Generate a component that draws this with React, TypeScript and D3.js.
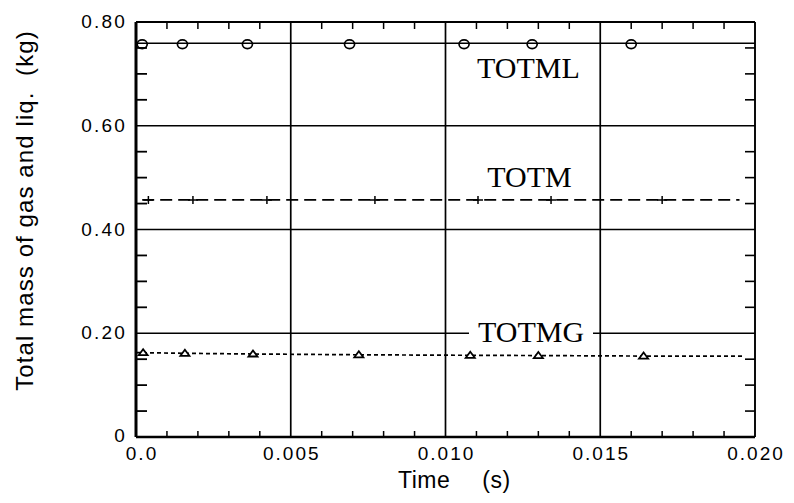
import React from "react";
import * as d3 from "d3";

// Time axis (s) and mass axis (kg)
const xDomain = [0, 0.02];
const yDomain = [0, 0.8];
const xTickLabels = ["0.0", "0.005", "0.010", "0.015", "0.020"];
const yTickLabels = ["0", "0.20", "0.40", "0.60", "0.80"];

// TOTML: total liquid mass
const totmlTime = [0.0002, 0.0015, 0.0036, 0.0069, 0.0106, 0.0128, 0.016];
const totmlMass = [0.759, 0.759, 0.759, 0.759, 0.759, 0.759, 0.759];

// TOTM: total mass
const totmTime = [0.0004, 0.00184, 0.00423, 0.00772, 0.01105, 0.01341, 0.017];
const totmMass = [0.457, 0.457, 0.457, 0.457, 0.457, 0.457, 0.457];

// TOTMG: total gas mass
const totmgTime = [0.00023, 0.00158, 0.00378, 0.0072, 0.0108, 0.013, 0.0164];
const totmgMass = [0.1625, 0.1613, 0.16, 0.1585, 0.1575, 0.157, 0.156];

const W = 794;
const H = 503;
const M = { left: 136, right: 755, top: 22, bottom: 437 };

const x = d3.scaleLinear().domain(xDomain).range([M.left, M.right]);
const y = d3.scaleLinear().domain(yDomain).range([M.bottom, M.top]);

type Series = {
  name: string;
  time: number[];
  mass: number[];
  span: [number, number];
  dash: string;
  marker: "circle" | "plus" | "triangle";
  label: [number, number];
  knockout?: boolean;
};

const series: Series[] = [
  {
    name: "TOTML",
    time: totmlTime,
    mass: totmlMass,
    span: [0, 0.02],
    dash: "none",
    marker: "circle",
    label: [0.01102, 0.692],
  },
  {
    name: "TOTM",
    time: totmTime,
    mass: totmMass,
    span: [0.0002, 0.0195],
    dash: "12 6",
    marker: "plus",
    label: [0.01135, 0.482],
  },
  {
    name: "TOTMG",
    time: totmgTime,
    mass: totmgMass,
    span: [0, 0.0196],
    dash: "4 3",
    marker: "triangle",
    label: [0.01105, 0.183],
    knockout: true,
  },
];

const line = d3
  .line<[number, number]>()
  .x((d) => x(d[0]))
  .y((d) => y(d[1]));

function seriesPoints(s: Series): [number, number][] {
  const pts: [number, number][] = s.time.map((t, i) => [t, s.mass[i]]);
  return [
    [s.span[0], s.mass[0]],
    ...pts,
    [s.span[1], s.mass[s.mass.length - 1]],
  ];
}

function Marker({ kind, cx, cy }: { kind: string; cx: number; cy: number }) {
  if (kind === "circle") {
    return (
      <ellipse cx={cx} cy={cy + 1} rx={5} ry={4.3} fill="none" stroke="#000" strokeWidth={1.7} />
    );
  }
  if (kind === "plus") {
    return (
      <path
        d={`M${cx - 5},${cy}H${cx + 5}M${cx},${cy - 4}V${cy + 4}`}
        stroke="#000"
        strokeWidth={1.5}
      />
    );
  }
  return (
    <path
      d={`M${cx - 4.5},${cy + 2.5}L${cx},${cy - 3.5}L${cx + 4.5},${cy + 2.5}Z`}
      fill="#fff"
      stroke="#000"
      strokeWidth={1.8}
    />
  );
}

export default function App() {
  const xMajor = x.ticks(4);
  const yMajor = y.ticks(4);
  const xMinor = d3.ticks(xDomain[0], xDomain[1], 20);
  const yMinor = d3.ticks(yDomain[0], yDomain[1], 20);
  const isMajorX = (v: number) => xMajor.some((m) => Math.abs(m - v) < 1e-9);
  const isMajorY = (v: number) => yMajor.some((m) => Math.abs(m - v) < 1e-9);

  const sans = "'Liberation Sans', Arial, Helvetica, sans-serif";
  const serif = "'Liberation Serif', 'Times New Roman', serif";

  return (
    <svg
      width={W}
      height={H}
      viewBox={`0 0 ${W} ${H}`}
      style={{ position: "absolute", left: 0, top: 0, background: "#fff" }}
    >
      <rect x={0} y={0} width={W} height={H} fill="#fff" />

      {/* grid lines at the inner major ticks */}
      {yMajor
        .filter((v) => v > yDomain[0] && v < yDomain[1])
        .map((v) => (
          <line key={`gy${v}`} x1={M.left} x2={M.right} y1={y(v)} y2={y(v)} stroke="#000" strokeWidth={1.7} />
        ))}
      {xMajor
        .filter((v) => v > xDomain[0] && v < xDomain[1])
        .map((v) => (
          <line key={`gx${v}`} x1={x(v)} x2={x(v)} y1={M.top} y2={M.bottom} stroke="#000" strokeWidth={1.7} />
        ))}

      {/* series lines */}
      {series.map((s) => (
        <path
          key={`l${s.name}`}
          d={line(seriesPoints(s)) || ""}
          fill="none"
          stroke="#000"
          strokeWidth={1.7}
          strokeDasharray={s.dash}
        />
      ))}

      {/* markers */}
      {series.map((s) =>
        s.time.map((t, i) => (
          <Marker key={`m${s.name}${i}`} kind={s.marker} cx={x(t)} cy={y(s.mass[i])} />
        ))
      )}

      {/* series labels */}
      {series.map((s) => (
        <g key={`t${s.name}`}>
          {s.knockout && (
            <rect
              x={x(s.label[0]) - 9}
              y={y(s.label[1]) - 22}
              width={124}
              height={20}
              fill="#fff"
            />
          )}
          <text x={x(s.label[0])} y={y(s.label[1])} fontFamily={serif} fontSize={30} fill="#000">
            {s.name}
          </text>
        </g>
      ))}

      {/* minor ticks */}
      {xMinor
        .filter((v) => !isMajorX(v))
        .map((v) => (
          <g key={`xm${v}`}>
            <line x1={x(v)} x2={x(v)} y1={M.top} y2={M.top + 7} stroke="#000" strokeWidth={1.5} />
            <line x1={x(v)} x2={x(v)} y1={M.bottom} y2={M.bottom - 6} stroke="#000" strokeWidth={1.5} />
          </g>
        ))}
      {yMinor
        .filter((v) => !isMajorY(v))
        .map((v) => (
          <g key={`ym${v}`}>
            <line x1={M.left} x2={M.left + 11} y1={y(v)} y2={y(v)} stroke="#000" strokeWidth={1.8} />
            <line x1={M.right} x2={M.right - 10} y1={y(v)} y2={y(v)} stroke="#000" strokeWidth={1.6} />
          </g>
        ))}

      {/* frame */}
      <line x1={M.left} x2={M.right} y1={M.top} y2={M.top} stroke="#000" strokeWidth={1.9} />
      <line x1={M.right} x2={M.right} y1={M.top} y2={M.bottom} stroke="#000" strokeWidth={1.9} />
      <line x1={M.left} x2={M.right} y1={M.bottom} y2={M.bottom} stroke="#000" strokeWidth={2.6} />
      <line x1={M.left} x2={M.left} y1={M.top} y2={M.bottom} stroke="#000" strokeWidth={3} />

      {/* tick labels */}
      {xMajor.map((v, i) => (
        <text
          key={`xl${v}`}
          x={x(v) + (i === 0 ? 6 : 1)}
          y={M.bottom + 23}
          textAnchor="middle"
          fontFamily={sans}
          fontSize={19}
          letterSpacing={2}
          fill="#000"
        >
          {xTickLabels[i]}
        </text>
      ))}
      {yMajor.map((v, i) => (
        <text
          key={`yl${v}`}
          x={M.left - 9}
          y={y(v) + (i === 0 ? 5 : 6)}
          textAnchor="end"
          fontFamily={sans}
          fontSize={19}
          letterSpacing={2.2}
          fill="#000"
        >
          {yTickLabels[i]}
        </text>
      ))}

      {/* axis titles */}
      <text x={398} y={488} fontFamily={sans} fontSize={23} letterSpacing={0.5} fill="#000">
        <tspan>Time</tspan>
        <tspan dx={32}>(s)</tspan>
      </text>
      <text
        transform={`translate(33, ${(M.top + M.bottom) / 2 - 19}) rotate(-90)`}
        textAnchor="middle"
        fontFamily={sans}
        fontSize={24}
        letterSpacing={1.1}
        fill="#000"
        style={{ whiteSpace: "pre" }}
      >
        {"Total mass of gas and liq.  (kg)"}
      </text>
    </svg>
  );
}
